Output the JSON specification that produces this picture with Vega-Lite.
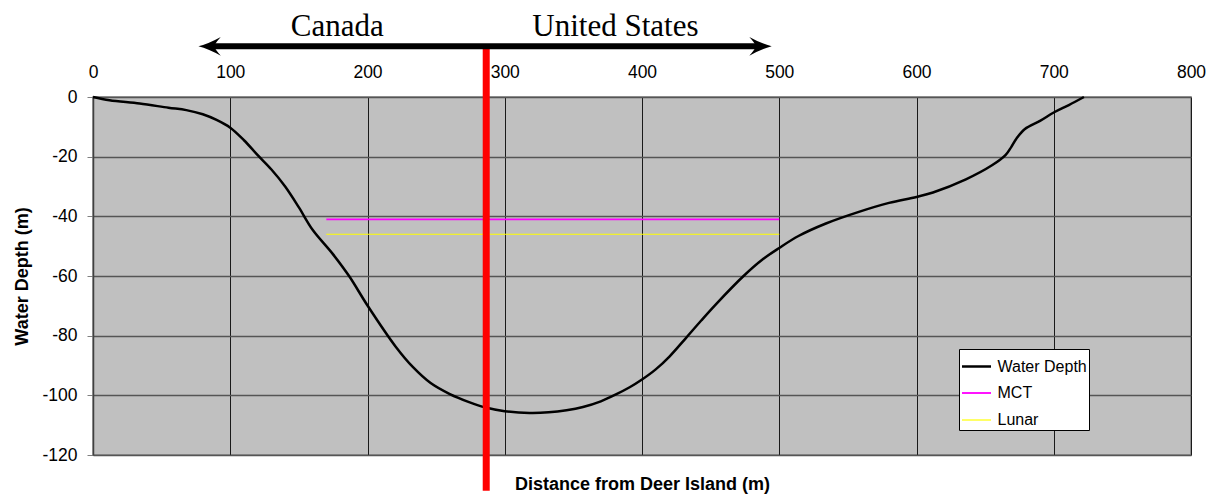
{
  "$schema": "https://vega.github.io/schema/vega-lite/v6.json",
  "width": 1098,
  "height": 358,
  "autosize": {"type": "none"},
  "padding": {"left": 93, "top": 97, "right": 28, "bottom": 40},
  "background": "white",
  "config": {
    "font": "Liberation Sans",
    "view": {"fill": "#C0C0C0", "stroke": "#808080", "strokeWidth": 1.5}
  },
  "datasets": {
    "profile": [
      {"series": "Water Depth", "distance": 0, "depth": 0},
      {"series": "Water Depth", "distance": 12, "depth": -1.1},
      {"series": "Water Depth", "distance": 34, "depth": -2.2},
      {"series": "Water Depth", "distance": 55, "depth": -3.6},
      {"series": "Water Depth", "distance": 68, "depth": -4.4},
      {"series": "Water Depth", "distance": 80, "depth": -5.8},
      {"series": "Water Depth", "distance": 90, "depth": -7.7},
      {"series": "Water Depth", "distance": 100, "depth": -10.3},
      {"series": "Water Depth", "distance": 110, "depth": -14.5},
      {"series": "Water Depth", "distance": 120, "depth": -19.5},
      {"series": "Water Depth", "distance": 130, "depth": -24.3},
      {"series": "Water Depth", "distance": 140, "depth": -30},
      {"series": "Water Depth", "distance": 150, "depth": -37},
      {"series": "Water Depth", "distance": 160, "depth": -44.5},
      {"series": "Water Depth", "distance": 174.5, "depth": -52.5},
      {"series": "Water Depth", "distance": 186.7, "depth": -60.1},
      {"series": "Water Depth", "distance": 200, "depth": -69.9},
      {"series": "Water Depth", "distance": 220.7, "depth": -83.8},
      {"series": "Water Depth", "distance": 233, "depth": -90.5},
      {"series": "Water Depth", "distance": 246, "depth": -95.9},
      {"series": "Water Depth", "distance": 260, "depth": -99.6},
      {"series": "Water Depth", "distance": 274, "depth": -102.3},
      {"series": "Water Depth", "distance": 286, "depth": -104.1},
      {"series": "Water Depth", "distance": 300, "depth": -105.3},
      {"series": "Water Depth", "distance": 318, "depth": -105.9},
      {"series": "Water Depth", "distance": 332, "depth": -105.7},
      {"series": "Water Depth", "distance": 345, "depth": -105},
      {"series": "Water Depth", "distance": 357, "depth": -103.9},
      {"series": "Water Depth", "distance": 370, "depth": -102},
      {"series": "Water Depth", "distance": 381, "depth": -99.7},
      {"series": "Water Depth", "distance": 391, "depth": -97.3},
      {"series": "Water Depth", "distance": 400, "depth": -94.7},
      {"series": "Water Depth", "distance": 410, "depth": -91.3},
      {"series": "Water Depth", "distance": 420, "depth": -87},
      {"series": "Water Depth", "distance": 432, "depth": -80.8},
      {"series": "Water Depth", "distance": 443, "depth": -75},
      {"series": "Water Depth", "distance": 454, "depth": -69.4},
      {"series": "Water Depth", "distance": 474, "depth": -60},
      {"series": "Water Depth", "distance": 488, "depth": -54.4},
      {"series": "Water Depth", "distance": 500, "depth": -50.6},
      {"series": "Water Depth", "distance": 514, "depth": -46.6},
      {"series": "Water Depth", "distance": 534, "depth": -42.4},
      {"series": "Water Depth", "distance": 558, "depth": -38.5},
      {"series": "Water Depth", "distance": 580, "depth": -35.5},
      {"series": "Water Depth", "distance": 600, "depth": -33.5},
      {"series": "Water Depth", "distance": 612, "depth": -32},
      {"series": "Water Depth", "distance": 636, "depth": -27.6},
      {"series": "Water Depth", "distance": 655, "depth": -22.9},
      {"series": "Water Depth", "distance": 665, "depth": -19.4},
      {"series": "Water Depth", "distance": 669, "depth": -16.8},
      {"series": "Water Depth", "distance": 673, "depth": -13.8},
      {"series": "Water Depth", "distance": 679, "depth": -10.7},
      {"series": "Water Depth", "distance": 690, "depth": -8},
      {"series": "Water Depth", "distance": 700, "depth": -5.2},
      {"series": "Water Depth", "distance": 711, "depth": -2.7},
      {"series": "Water Depth", "distance": 722, "depth": 0},
      {"series": "MCT", "distance": 170, "depth": -41},
      {"series": "MCT", "distance": 500, "depth": -41},
      {"series": "Lunar", "distance": 170, "depth": -46},
      {"series": "Lunar", "distance": 500, "depth": -46}
    ],
    "border": [
      {"distance": 286.5, "top": 17, "bottom": -132}
    ],
    "arrow": [
      {"shaft_from": 86, "shaft_to": 485, "level": 17}
    ],
    "arrow_heads": [
      {"end": "west", "distance": 76.8, "level": 17},
      {"end": "east", "distance": 494.5, "level": 17}
    ],
    "countries": [
      {"name": "Canada", "distance": 178, "level": 20.4},
      {"name": "United States", "distance": 380.6, "level": 20.4}
    ]
  },
  "layer": [
    {
      "data": {"name": "profile"},
      "mark": {"type": "line", "interpolate": "catmull-rom"},
      "encoding": {
        "x": {
          "field": "distance",
          "type": "quantitative",
          "scale": {"domain": [0, 800], "nice": false},
          "axis": {
            "orient": "top",
            "title": null,
            "values": [0, 100, 200, 300, 400, 500, 600, 700, 800],
            "ticks": false,
            "tickSize": 0,
            "domain": false,
            "labelPadding": 19.4,
            "labelBaseline": "alphabetic",
            "labelFont": "Liberation Sans",
            "labelFontSize": 17.5,
            "labelColor": "black",
            "labelFlush": false,
            "labelOverlap": false,
            "grid": true,
            "gridColor": "#1a1a1a",
            "gridWidth": 1,
            "gridOpacity": 1
          }
        },
        "y": {
          "field": "depth",
          "type": "quantitative",
          "title": "Water Depth (m)",
          "scale": {"domain": [-120, 0], "nice": false},
          "axis": {
            "values": [-120, -100, -80, -60, -40, -20, 0],
            "labelExpr": "'' + datum.value",
            "tickSize": 6,
            "tickColor": "#808080",
            "tickWidth": 1,
            "domainColor": "#404040",
            "domainWidth": 1.5,
            "labelPadding": 10,
            "labelFont": "Liberation Sans",
            "labelFontSize": 17.5,
            "labelColor": "black",
            "labelFlush": false,
            "labelOverlap": false,
            "grid": true,
            "gridColor": "#555555",
            "gridWidth": 1.5,
            "gridOpacity": 1,
            "titleFont": "Liberation Sans",
            "titleFontSize": 18,
            "titleFontWeight": "bold",
            "titleColor": "black",
            "titleAngle": -90,
            "titleX": -71,
            "titleY": 179,
            "titleAlign": "center",
            "titleBaseline": "middle"
          }
        },
        "color": {
          "field": "series",
          "type": "nominal",
          "scale": {
            "domain": ["Water Depth", "MCT", "Lunar"],
            "range": ["#000000", "#FF00FF", "#FFFF00"]
          },
          "legend": {
            "title": null,
            "orient": "none",
            "legendX": 866,
            "legendY": 252,
            "direction": "vertical",
            "fillColor": "white",
            "strokeColor": "black",
            "padding": 1.5,
            "rowPadding": 3,
            "labelFont": "Liberation Sans",
            "labelFontSize": 16,
            "labelColor": "black",
            "labelOffset": 5,
            "symbolType": "stroke",
            "symbolSize": 841
          }
        },
        "strokeWidth": {
          "field": "series",
          "type": "nominal",
          "scale": {
            "domain": ["Water Depth", "MCT", "Lunar"],
            "range": [2.5, 1.2, 2]
          },
          "legend": {
            "title": null,
            "orient": "none",
            "legendX": 866,
            "legendY": 252,
            "direction": "vertical",
            "fillColor": "white",
            "strokeColor": "black",
            "padding": 1.5,
            "rowPadding": 3,
            "labelFont": "Liberation Sans",
            "labelFontSize": 16,
            "labelColor": "black",
            "labelOffset": 5,
            "symbolType": "stroke",
            "symbolSize": 841
          }
        }
      }
    },
    {
      "data": {"name": "border"},
      "mark": {"type": "rule", "color": "#FF0000", "strokeWidth": 7},
      "encoding": {
        "x": {
          "field": "distance",
          "type": "quantitative",
          "scale": {"domain": [0, 800], "nice": false},
          "axis": {
            "orient": "bottom",
            "labels": false,
            "ticks": false,
            "domain": false,
            "grid": false,
            "title": "Distance from Deer Island (m)",
            "titleFont": "Liberation Sans",
            "titleFontSize": 18,
            "titleFontWeight": "bold",
            "titleColor": "black",
            "titleY": 34,
            "titleBaseline": "alphabetic"
          }
        },
        "y": {
          "field": "top",
          "type": "quantitative",
          "title": "Water Depth (m)",
          "scale": {"domain": [-120, 0], "nice": false}
        },
        "y2": {"field": "bottom"}
      }
    },
    {
      "data": {"name": "arrow"},
      "mark": {"type": "rule", "color": "black", "strokeWidth": 6},
      "encoding": {
        "x": {
          "field": "shaft_from",
          "type": "quantitative",
          "scale": {"domain": [0, 800], "nice": false},
          "axis": null
        },
        "x2": {"field": "shaft_to"},
        "y": {
          "field": "level",
          "type": "quantitative",
          "title": "Water Depth (m)",
          "scale": {"domain": [-120, 0], "nice": false}
        }
      }
    },
    {
      "data": {"name": "arrow_heads"},
      "mark": {"type": "point", "filled": true, "color": "black", "opacity": 1, "strokeWidth": 0, "size": 2007},
      "encoding": {
        "x": {
          "field": "distance",
          "type": "quantitative",
          "scale": {"domain": [0, 800], "nice": false},
          "axis": null
        },
        "y": {
          "field": "level",
          "type": "quantitative",
          "title": "Water Depth (m)",
          "scale": {"domain": [-120, 0], "nice": false}
        },
        "shape": {
          "field": "end",
          "type": "nominal",
          "scale": {
            "domain": ["west", "east"],
            "range": [
              "M0,0 Q0.45,-0.12 1,-0.42 Q0.75,-0.15 0.7,0 Q0.75,0.15 1,0.42 Q0.45,0.12 0,0 Z",
              "M0,0 Q-0.45,-0.12 -1,-0.42 Q-0.75,-0.15 -0.7,0 Q-0.75,0.15 -1,0.42 Q-0.45,0.12 0,0 Z"
            ]
          },
          "legend": null
        }
      }
    },
    {
      "data": {"name": "countries"},
      "mark": {
        "type": "text",
        "font": "Liberation Serif",
        "fontSize": 31,
        "align": "center",
        "baseline": "alphabetic",
        "color": "black"
      },
      "encoding": {
        "x": {
          "field": "distance",
          "type": "quantitative",
          "scale": {"domain": [0, 800], "nice": false},
          "axis": null
        },
        "y": {
          "field": "level",
          "type": "quantitative",
          "title": "Water Depth (m)",
          "scale": {"domain": [-120, 0], "nice": false}
        },
        "text": {"field": "name", "type": "nominal"}
      }
    }
  ],
  "resolve": {"axis": {"x": "independent"}}
}
